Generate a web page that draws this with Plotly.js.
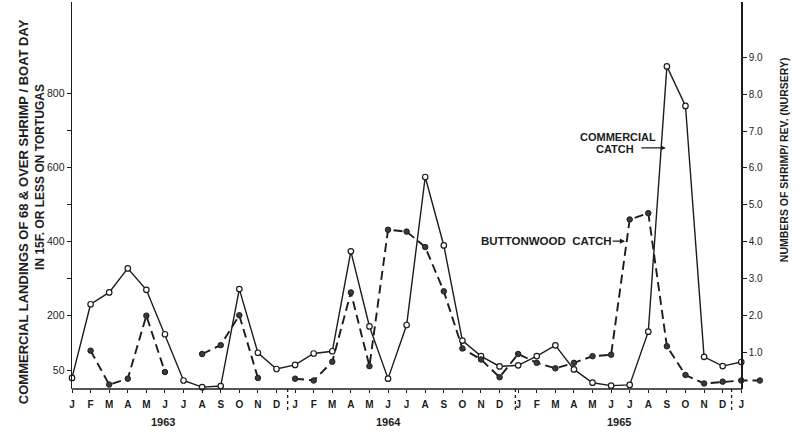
<!DOCTYPE html>
<html>
<head>
<meta charset="utf-8">
<script src="https://cdn.plot.ly/plotly-3.0.1.min.js"></script>
<style>html,body{margin:0;padding:0;background:#fff;}#chart{width:800px;height:446px;}</style>
</head>
<body>
<div id="chart"></div>
<script>
// ---- data ----
const monthLetters = ['J','F','M','A','M','J','J','A','S','O','N','D'];
const years = ['1963','1964','1965'];
// Commercial landings (left axis), Jan 1963 .. Jan 1966
const commercialLandings = [30,229,261,326,268,148,23,5,8,270,98,54,
                            65,96,102,372,169,28,173,573,388,131,89,61,
                            64,89,118,53,17,9,11,155,872,765,87,62,
                            73];
// Buttonwood catch, numbers of shrimp / rev. (right axis), Jan 1963 .. Feb 1966
const buttonwoodCatch = [null,1.04,0.12,0.28,1.99,0.46,null,0.95,1.19,2.0,0.30,null,
                         0.28,0.23,0.74,2.62,0.62,4.32,4.27,3.85,2.65,1.10,0.80,0.32,
                         0.95,0.71,0.56,0.71,0.89,0.93,4.60,4.77,1.16,0.38,0.15,0.20,
                         0.23,0.23];
const leftTickVals = [50,200,300,400,500,600,700,800];
const leftTickText = ['50','200','','400','','600','','800'];
const rightTickVals = [1,2,3,4,5,6,7,8,9];
const rightTickText = ['1.0','2.0','3.0','4.0','5.0','6.0','7.0','8.0','9.0'];

// ---- build ----
const nMonths = 37; // Jan 1963 .. Jan 1966 (ticks)
const tickVals = [], tickText = [];
for (let i = 0; i < nMonths; i++) { tickVals.push(i); tickText.push(monthLetters[i % 12]); }
const xc = commercialLandings.map((_, i) => i);
const xb = buttonwoodCatch.map((_, i) => i);

const ink = '#1c1c1c';
const FONT = '"Liberation Sans", Arial, Helvetica, sans-serif';
const XMAX = 37.6;

const traces = [
  {
    x: xb, y: buttonwoodCatch, yaxis: 'y2', type: 'scatter', mode: 'lines+markers',
    line: {color: ink, width: 1.9, dash: '9px,5px'},
    marker: {size: 5.5, color: '#3a3a3a', line: {color: ink, width: 1}},
    connectgaps: false, cliponaxis: false, showlegend: false, hoverinfo: 'skip'
  },
  {
    x: xc, y: commercialLandings, type: 'scatter', mode: 'lines+markers',
    line: {color: ink, width: 1.4},
    marker: {size: 5.5, color: '#ffffff', line: {color: ink, width: 1.2}},
    cliponaxis: false, showlegend: false, hoverinfo: 'skip'
  }
];

const yrPos = [4.9, 17.0, 29.4];
const annotations = years.map((yr, i) => ({
  text: yr, x: yrPos[i], xref: 'x', y: -0.0853, yref: 'paper',
  showarrow: false, xanchor: 'center', yanchor: 'middle',
  font: {family: FONT, size: 11, color: ink, weight: 'bold'}
}));
annotations.push(
  {text: 'COMMERCIAL LANDINGS OF 68 &amp; OVER SHRIMP / BOAT DAY', textangle: -90,
   xref: 'paper', x: 0, xshift: -49, yref: 'paper', y: 0.457, showarrow: false,
   xanchor: 'center', yanchor: 'middle', font: {family: FONT, size: 13, color: ink, weight: 'bold'}},
  {text: 'IN 15F. OR LESS ON TORTUGAS', textangle: -90,
   xref: 'paper', x: 0, xshift: -32, yref: 'paper', y: 0.548, showarrow: false,
   xanchor: 'center', yanchor: 'middle', font: {family: FONT, size: 12, color: ink, weight: 'bold'}},
  {text: 'NUMBERS OF SHRIMP/ REV. (NURSERY)', textangle: -90,
   xref: 'paper', x: 36 / XMAX, xshift: 43, yref: 'paper', y: 0.592, showarrow: false,
   xanchor: 'center', yanchor: 'middle', font: {family: FONT, size: 10.5, color: ink, weight: 'bold'}},
  {text: 'COMMERCIAL', xref: 'x', x: 29.35, yref: 'paper', y: 0.651, showarrow: false,
   xanchor: 'center', yanchor: 'middle', font: {family: FONT, size: 11, color: ink, weight: 'bold'}},
  {text: 'CATCH', xref: 'x', x: 29.19, yref: 'paper', y: 0.620, showarrow: false,
   xanchor: 'center', yanchor: 'middle', font: {family: FONT, size: 11, color: ink, weight: 'bold'}},
  {text: '', xref: 'x', x: 31.94, yref: 'paper', y: 0.623, showarrow: true,
   ax: -26, ay: 0, arrowhead: 2, arrowsize: 0.8, arrowwidth: 1.2, arrowcolor: ink},
  {text: 'BUTTONWOOD  CATCH', xref: 'x', x: 25.54, yref: 'paper', y: 0.382, showarrow: false,
   xanchor: 'center', yanchor: 'middle', font: {family: FONT, size: 11.5, color: ink, weight: 'bold'}},
  {text: '', xref: 'x', x: 29.75, yref: 'paper', y: 0.382, showarrow: true,
   ax: -14, ay: 0, arrowhead: 2, arrowsize: 0.8, arrowwidth: 1.3, arrowcolor: ink}
);

const divider = (xv) => ({type: 'line', xref: 'x', yref: 'paper', x0: xv, x1: xv, y0: 0, y1: -0.06,
  line: {color: ink, width: 1.3, dash: 'dot'}});
const shapes = [
  {type: 'line', xref: 'x', yref: 'paper', x0: 0, x1: 36.05, y0: 0, y1: 0, line: {color: ink, width: 1.4}},
  divider(11.6), divider(23.85), divider(35.48)
];

const layout = {
  width: 800, height: 446,
  margin: {l: 72, r: 29, t: 2, b: 57},
  paper_bgcolor: '#ffffff', plot_bgcolor: '#ffffff',
  showlegend: false,
  font: {family: FONT, color: ink},
  xaxis: {
    range: [0, XMAX], tickmode: 'array', tickvals: tickVals, ticktext: tickText,
    ticks: 'outside', ticklen: 3, tickcolor: ink, tickwidth: 1,
    showline: false, showgrid: false, zeroline: false,
    tickfont: {family: FONT, size: 10, color: ink, weight: 'bold'}, ticklabelstandoff: 3
  },
  yaxis: {
    range: [0, 1046], tickmode: 'array', tickvals: leftTickVals, ticktext: leftTickText,
    ticks: 'outside', ticklen: 4, tickcolor: ink, showline: true, linecolor: ink, linewidth: 1.4,
    showgrid: false, zeroline: false,
    tickfont: {family: FONT, size: 10.5, color: ink}
  },
  yaxis2: {
    range: [0, 10.5], overlaying: 'y', side: 'right', anchor: 'free', position: 36 / XMAX,
    tickmode: 'array', tickvals: rightTickVals, ticktext: rightTickText,
    ticks: 'outside', ticklen: 4, tickcolor: ink, showline: true, linecolor: ink, linewidth: 1.4,
    showgrid: false, zeroline: false,
    tickfont: {family: FONT, size: 10, color: ink}
  },
  annotations: annotations,
  shapes: shapes
};

Plotly.newPlot('chart', traces, layout, {staticPlot: true, displayModeBar: false});
</script>
</body>
</html>
